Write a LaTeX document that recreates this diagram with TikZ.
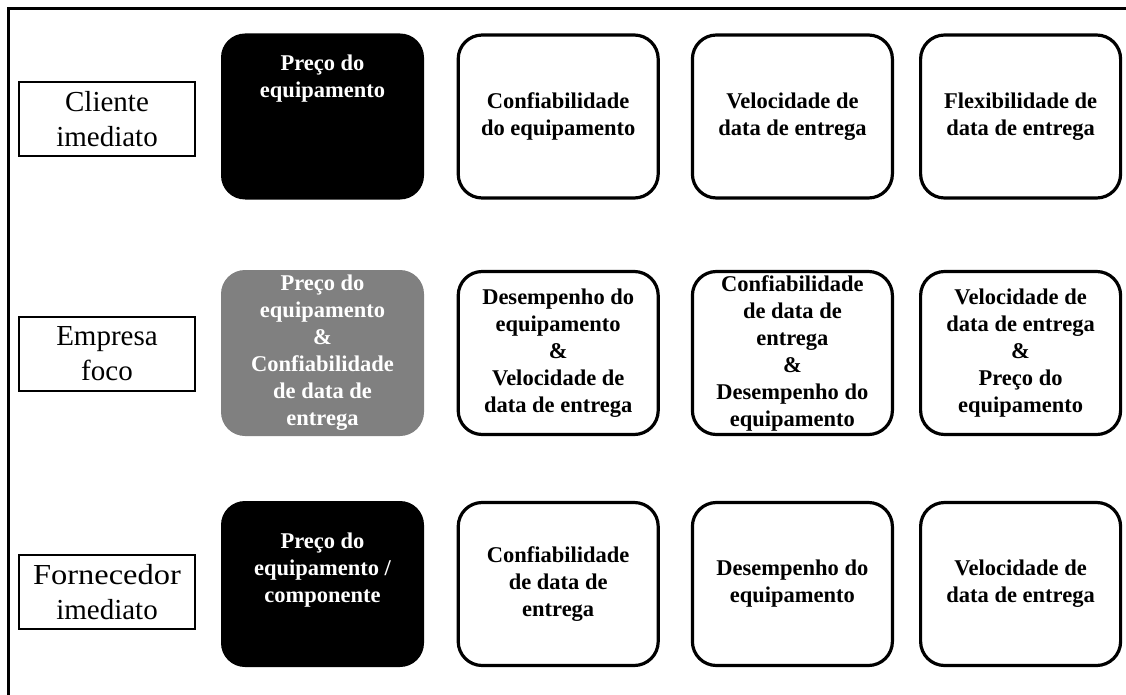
\documentclass[tikz,border=0pt]{standalone}
\usepackage{fontspec}
\setmainfont{Liberation Serif}
\usetikzlibrary{positioning}

\newcommand{\lifted}[2]{\raisebox{#1}[0pt][0pt]{\begin{tabular}{@{}c@{}}#2\end{tabular}}}

\tikzset{
  rowlabel/.style={draw, line width=2.5pt, minimum width=176pt, minimum height=74pt,
    inner sep=0pt, align=center, font=\fontsize{29}{35}\selectfont},
  prio/.style={draw, line width=3.2pt, rounded corners=24pt, minimum width=200pt,
    minimum height=163pt, inner sep=0pt, align=center,
    font=\bfseries\fontsize{22.5}{27}\selectfont},
  darkprio/.style={prio, draw=none, fill=black, text=white,
    minimum width=203pt, minimum height=166pt},
  greyprio/.style={darkprio, fill=black!50},
}

\begin{document}
\begin{tikzpicture}[x=1pt,y=-1pt]
  \useasboundingbox (0,0) rectangle (1126,695);
  \draw[line width=3pt] (8.5,700) -- (8.5,8.5) -- (1130,8.5);
  %
  \node[rowlabel] (cli) at (107,119) {Cliente\\imediato};
  \node[darkprio] (cli1) at (322.5,116.5) {\lifted{33pt}{Preço do\\equipamento}};
  \node[prio, right=31pt of cli1] (cli2) {Confiabilidade\\do equipamento};
  \node[prio, right=31pt of cli2] (cli3) {Velocidade de\\data de entrega};
  \node[prio, right=25pt of cli3] (cli4) {Flexibilidade de\\data de entrega};
  %
  \node[rowlabel] (emp) at (107,354) {Empresa\\foco};
  \node[greyprio] (emp1) at (322.5,353) {Preço do\\equipamento\\\&\\Confiabilidade\\de data de\\entrega};
  \node[prio, right=31pt of emp1] (emp2) {Desempenho do\\equipamento\\\&\\Velocidade de\\data de entrega};
  \node[prio, right=31pt of emp2] (emp3) {Confiabilidade\\de data de\\entrega\\\&\\Desempenho do\\equipamento};
  \node[prio, right=25pt of emp3] (emp4) {Velocidade de\\data de entrega\\\&\\Preço do\\equipamento};
  %
  \node[rowlabel] (forn) at (107,592) {\scalebox{1.12}[1]{Fornecedor}\\imediato};
  \node[darkprio] (forn1) at (322.5,584) {\lifted{9pt}{Preço do\\equipamento /\\componente}};
  \node[prio, right=31pt of forn1] (forn2) {Confiabilidade\\de data de\\entrega};
  \node[prio, right=31pt of forn2] (forn3) {Desempenho do\\equipamento};
  \node[prio, right=25pt of forn3] (forn4) {Velocidade de\\data de entrega};
\end{tikzpicture}
\end{document}
